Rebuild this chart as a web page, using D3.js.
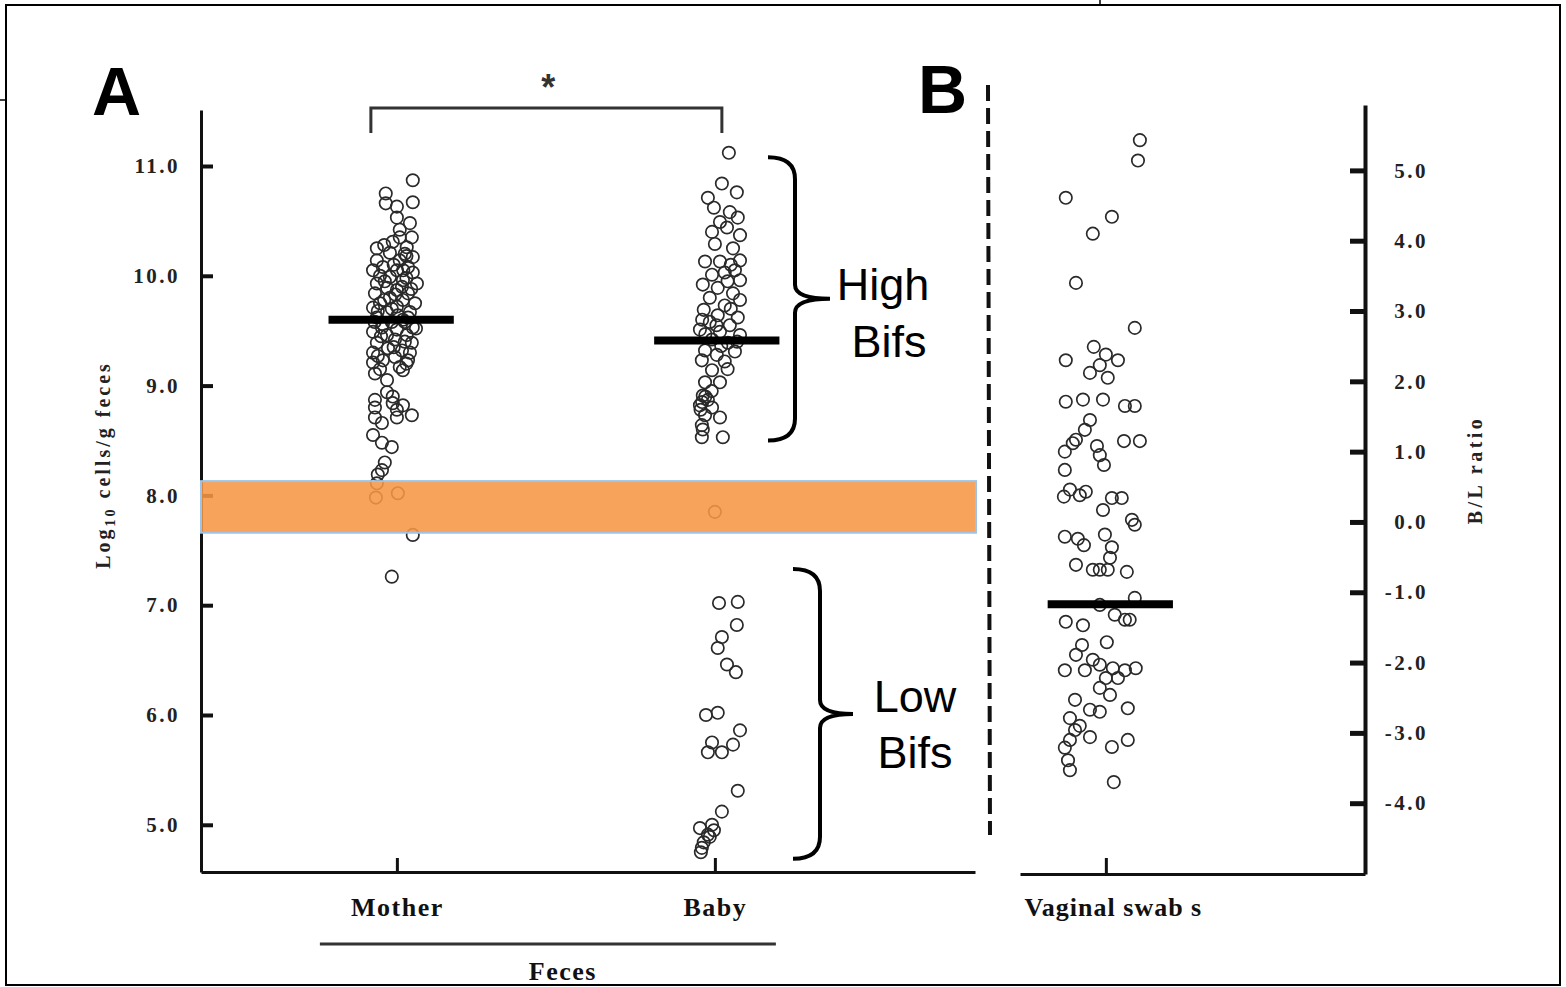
<!DOCTYPE html>
<html>
<head>
<meta charset="utf-8">
<script src="https://cdn.jsdelivr.net/npm/d3@7"></script>
<style>
  html, body { margin: 0; padding: 0; background: #fff; }
  svg { display: block; }
</style>
</head>
<body>
<svg id="chart" width="1566" height="987"></svg>
<script>
// ---------------- DATA ----------------
const categoriesA = ["Mother", "Baby"];
const categoriesB = ["Vaginal swab s"];
const groupLabel = "Feces";
const yTicksA = [5, 6, 7, 8, 9, 10, 11];
const yTicksB = [-4, -3, -2, -1, 0, 1, 2, 3, 4, 5];

// Mother feces, log10 cells/g
const motherValues = [10.87,10.75,10.67,10.66,10.63,10.53,10.48,10.42,10.35,10.31,10.25,10.26,10.21,10.17,10.14,10.14,10.08,10.08,10.05,10.03,10.05,9.99,9.96,9.93,9.93,9.89,9.87,9.84,9.84,9.80,9.78,9.75,9.75,9.72,9.71,9.67,9.67,9.64,9.62,9.58,9.58,9.53,9.53,9.51,9.49,9.46,9.46,9.42,9.39,9.39,9.34,9.32,9.30,9.26,9.23,9.23,9.21,9.17,9.11,9.14,9.05,8.94,8.90,8.87,8.84,8.80,8.82,8.78,8.73,8.71,8.71,8.66,8.55,8.48,8.44,8.30,8.23,8.19,8.11,7.98,8.02,7.64,7.26,9.95,9.60,9.70,10.00,10.20,9.90,9.56,9.30,9.15,10.35,
  9.45,9.62,9.78,9.98,10.10,9.35,9.52,9.68,9.88,10.28,9.40,9.27,9.83,10.05,9.58,9.20,10.18];
// jitter, in category units (offset from the category position)
const motherJitter = [0.050,-0.035,0.050,-0.035,0.000,0.000,0.041,0.009,0.047,-0.013,-0.063,0.031,-0.022,0.050,0.009,-0.063,-0.044,0.035,0.000,0.050,-0.075,-0.022,0.019,-0.063,0.063,-0.031,0.000,-0.069,0.035,-0.022,0.019,-0.053,0.057,0.000,-0.075,-0.031,0.041,0.003,-0.063,-0.016,0.025,-0.047,0.050,0.000,-0.075,-0.031,0.031,-0.006,-0.063,0.047,-0.028,0.016,-0.075,-0.006,-0.044,0.035,-0.075,0.009,-0.069,0.019,-0.031,-0.031,-0.013,-0.069,-0.013,-0.069,0.019,0.000,0.047,0.000,-0.069,-0.047,-0.075,-0.047,-0.016,-0.038,-0.047,-0.060,-0.063,-0.066,0.003,0.050,-0.016,-0.038,0.019,-0.016,-0.053,0.025,0.016,-0.044,0.041,-0.053,0.009,
  -0.050,0.035,-0.040,0.030,-0.010,-0.010,0.060,-0.060,0.045,-0.040,0.025,-0.060,-0.005,0.020,-0.070,0.030,0.030];

// Baby feces, log10 cells/g
const babyValues = [11.12,10.84,10.76,10.71,10.62,10.58,10.49,10.53,10.40,10.37,10.44,10.29,10.25,10.14,10.13,10.13,10.05,10.01,10.03,9.96,9.92,9.89,9.84,9.80,9.78,9.73,9.69,9.64,9.62,9.55,9.58,9.51,9.49,9.46,9.42,9.39,9.32,9.31,9.28,9.23,9.22,9.14,9.03,9.03,8.91,8.87,8.82,8.80,8.73,8.71,8.64,8.60,8.53,8.53,7.85,7.02,7.03,6.82,6.71,6.61,6.46,6.39,6.00,6.02,5.86,5.75,5.73,5.66,5.66,5.31,5.12,5.00,4.97,4.91,4.84,4.79,4.89,4.75,4.95,
  9.47,9.55,9.36,8.85,8.90,8.78,9.60,9.70,9.40,9.95,10.10,8.95,9.15];
const babyJitter = [0.044,0.022,0.069,-0.022,-0.003,0.047,0.016,0.072,-0.009,0.079,0.038,0.000,0.057,0.079,-0.031,0.016,0.063,-0.009,0.031,0.079,-0.038,0.009,0.057,-0.016,0.079,0.031,-0.035,0.009,0.072,0.047,-0.016,-0.047,0.016,0.079,-0.009,0.041,-0.031,0.063,0.006,-0.041,0.031,-0.009,-0.031,0.016,-0.038,-0.022,-0.047,-0.009,-0.031,0.016,-0.041,-0.038,-0.041,0.025,0.000,0.013,0.072,0.069,0.022,0.009,0.038,0.066,-0.028,0.009,0.079,-0.009,0.057,0.022,-0.022,0.072,0.022,-0.009,-0.047,-0.022,-0.035,-0.041,-0.016,-0.044,-0.003,
  -0.030,0.005,0.020,-0.040,-0.030,-0.045,-0.040,0.050,0.070,0.040,0.050,-0.010,0.040];

// Vaginal swabs, B/L ratio
const vaginalValues = [5.43,5.14,4.61,4.34,4.10,3.40,2.76,2.30,2.49,2.38,2.30,2.23,2.12,2.05,1.71,1.74,1.74,1.65,1.65,1.45,1.17,1.12,1.31,1.08,1.15,1.15,1.00,0.95,0.81,0.74,0.46,0.38,0.43,0.36,0.34,0.34,0.03,-0.04,0.17,-0.21,-0.24,-0.33,-0.18,-0.36,-0.51,-0.61,-0.68,-0.68,-0.68,-0.71,-1.18,-1.08,-1.42,-1.47,-1.32,-1.39,-1.39,-1.75,-1.71,-1.89,-1.96,-2.03,-2.11,-2.11,-2.08,-2.11,-2.08,-2.22,-2.22,-2.36,-2.46,-2.53,-2.65,-2.67,-2.70,-2.79,-2.90,-2.96,-3.10,-3.20,-3.10,-3.06,-3.21,-3.39,-3.53,-3.70];
const vaginalJitter = [0.107,0.101,-0.126,0.019,-0.041,-0.094,0.091,-0.126,-0.038,0.000,0.038,-0.019,-0.050,0.006,-0.126,-0.072,-0.009,0.060,0.091,-0.050,-0.094,-0.104,-0.066,-0.028,0.057,0.107,-0.129,-0.019,-0.006,-0.129,-0.113,-0.082,-0.063,-0.132,0.019,0.050,0.082,0.091,-0.009,-0.129,-0.088,-0.069,-0.003,0.019,0.013,-0.094,-0.041,-0.019,0.006,0.066,-0.019,0.091,-0.126,-0.072,0.028,0.060,0.075,-0.075,0.003,-0.094,-0.041,-0.019,-0.129,-0.066,0.022,0.060,0.094,0.000,0.038,-0.019,0.013,-0.097,0.069,-0.050,-0.019,-0.113,-0.082,-0.097,-0.113,0.019,0.069,-0.050,-0.129,-0.119,-0.113,0.025];

// Group means (horizontal bars)
const meanValues = [9.60, 9.41, -1.17];
const meanOffsets = [-0.018, 0.006, 0.014];
// highlighted band (log10 cells/g)
const bandRange = [7.66, 8.13];
// brace groups
const braceLabels = [["High", "Bifs"], ["Low", "Bifs"]];
const braceRanges = [[8.50, 11.08], [4.69, 7.33]];

// ---------------- CHART ----------------
const svg = d3.select("#chart");
const serif = '"Liberation Serif", "Times New Roman", serif';
const sans = '"Liberation Sans", Arial, sans-serif';
const fmt = d => d.toFixed(1);

// frame
svg.append("rect").attr("x", 6).attr("y", 5).attr("width", 1554).attr("height", 980)
  .attr("fill", "none").attr("stroke", "#000").attr("stroke-width", 2);
svg.append("line").attr("x1", 0).attr("x2", 6).attr("y1", 100).attr("y2", 100).attr("stroke", "#000").attr("stroke-width", 1.5);
svg.append("line").attr("x1", 1100).attr("x2", 1100).attr("y1", 0).attr("y2", 5).attr("stroke", "#000").attr("stroke-width", 1.5);

// scales
const yA = d3.scaleLinear().domain([4.57, 11.51]).range([872, 110]);
const xA = d3.scaleLinear().domain([0.384, 2.818]).range([201, 975]);
const yB = d3.scaleLinear().domain([-5.007, 5.93]).range([874, 105]);
const xB = d3.scaleLinear().domain([0.730, 1.815]).range([1020, 1365]);

function styleAxis(g, w) {
  g.select(".domain").attr("stroke", "#111").attr("stroke-width", w);
  g.selectAll(".tick line").attr("stroke", "#111").attr("stroke-width", 4);
}

// ---- Panel A axes ----
const gYA = svg.append("g").attr("transform", `translate(${xA.range()[0]},0)`)
  .call(d3.axisLeft(yA).tickValues(yTicksA).tickFormat(fmt)
    .tickSizeInner(-12).tickSizeOuter(0).tickPadding(21));
styleAxis(gYA, 3);
gYA.selectAll(".tick text").attr("font-family", serif).attr("font-weight", "bold")
  .attr("font-size", 21).attr("letter-spacing", 2.5).attr("fill", "#222");

const gXA = svg.append("g").attr("transform", `translate(0,${yA.range()[0]})`)
  .call(d3.axisBottom(xA).tickValues([1, 2]).tickFormat(d => categoriesA[d - 1])
    .tickSizeInner(-14).tickSizeOuter(0).tickPadding(26));
styleAxis(gXA, 3);
gXA.selectAll(".tick line").attr("stroke-width", 3);
gXA.selectAll(".tick text").attr("font-family", serif).attr("font-weight", "bold")
  .attr("font-size", 26).attr("letter-spacing", 1.5).attr("fill", "#111");

// Feces group line and label
svg.append("line").attr("x1", xA(1) - 77).attr("x2", xA(2) + 61).attr("y1", 944).attr("y2", 944)
  .attr("stroke", "#333").attr("stroke-width", 3);
svg.append("text").attr("x", (xA(1) + xA(2)) / 2 + 7).attr("y", 980).attr("text-anchor", "middle")
  .attr("font-family", serif).attr("font-weight", "bold").attr("font-size", 26).attr("letter-spacing", 1.5)
  .attr("fill", "#111").text(groupLabel);

// y title A
const tA = svg.append("text").attr("transform", `translate(110,465) rotate(-90)`)
  .attr("text-anchor", "middle").attr("font-family", serif).attr("font-weight", "bold")
  .attr("font-size", 20).attr("letter-spacing", 3).attr("fill", "#222");
tA.append("tspan").text("Log");
tA.append("tspan").attr("font-size", 14).attr("dy", 5).text("10");
tA.append("tspan").attr("dy", -5).text(" cells/g feces");

// ---- Panel B axes ----
const gYB = svg.append("g").attr("transform", `translate(${xB.range()[1]},0)`)
  .call(d3.axisRight(yB).tickValues(yTicksB).tickFormat(fmt)
    .tickSizeInner(-15).tickSizeOuter(0).tickPadding(63));
styleAxis(gYB, 4);
gYB.selectAll(".tick line").attr("stroke-width", 5);
gYB.selectAll(".tick text").attr("text-anchor", "end").attr("font-family", serif).attr("font-weight", "bold")
  .attr("font-size", 21).attr("letter-spacing", 2.5).attr("fill", "#222");

const gXB = svg.append("g").attr("transform", `translate(0,${yB.range()[0]})`)
  .call(d3.axisBottom(xB).tickValues([1]).tickFormat(d => categoriesB[d - 1])
    .tickSizeInner(-16).tickSizeOuter(0).tickPadding(24));
styleAxis(gXB, 3);
gXB.selectAll(".tick line").attr("stroke-width", 3);
gXB.selectAll(".tick text").attr("font-family", serif).attr("font-weight", "bold")
  .attr("font-size", 26).attr("letter-spacing", 1).attr("dx", 7).attr("fill", "#111");

svg.append("text").attr("transform", `translate(1482,470) rotate(-90)`)
  .attr("text-anchor", "middle").attr("font-family", serif).attr("font-weight", "bold")
  .attr("font-size", 20).attr("letter-spacing", 3.5).attr("fill", "#222").text("B/L ratio");

// ---- Points ----
function drawPoints(values, jitter, cat, xs, ys) {
  svg.append("g").selectAll("circle")
    .data(values.map((v, i) => ({ v, j: jitter[i] })))
    .join("circle")
    .attr("cx", d => xs(cat + d.j))
    .attr("cy", d => ys(d.v))
    .attr("r", 6.2)
    .attr("fill", "none")
    .attr("stroke", "#2a2a2a")
    .attr("stroke-width", 1.7);
}
drawPoints(motherValues, motherJitter, 1, xA, yA);
drawPoints(babyValues, babyJitter, 2, xA, yA);
drawPoints(vaginalValues, vaginalJitter, 1, xB, yB);

// ---- Means ----
const meanHalf = 0.197;
[[1, xA, yA], [2, xA, yA], [1, xB, yB]].forEach(([c, xs, ys], i) => {
  svg.append("line")
    .attr("x1", xs(c + meanOffsets[i] - meanHalf)).attr("x2", xs(c + meanOffsets[i] + meanHalf))
    .attr("y1", ys(meanValues[i])).attr("y2", ys(meanValues[i]))
    .attr("stroke", "#000").attr("stroke-width", 8);
});

// ---- Orange band ----
svg.append("rect")
  .attr("x", xA.range()[0]).attr("width", xA.range()[1] - xA.range()[0] + 1)
  .attr("y", yA(bandRange[1])).attr("height", yA(bandRange[0]) - yA(bandRange[1]))
  .attr("fill", "#F79646").attr("fill-opacity", 0.88)
  .attr("stroke", "#9DC3E6").attr("stroke-width", 2);

// ---- Significance bracket ----
const bx1 = xA(1) - 26, bx2 = xA(2) + 7;
svg.append("path")
  .attr("d", `M${bx1},133 L${bx1},108 L${bx2},108 L${bx2},133`)
  .attr("fill", "none").attr("stroke", "#333").attr("stroke-width", 3);
svg.append("text").attr("x", (bx1 + bx2) / 2 + 2).attr("y", 100).attr("text-anchor", "middle")
  .attr("font-family", sans).attr("font-weight", "bold").attr("font-size", 36).attr("fill", "#333").text("*");

// ---- Curly braces ----
function brace(x0, w, tipX, yTop, yBot) {
  const ym = (yTop + yBot) / 2;
  const xe = x0 + w;
  return `M${x0},${yTop} Q${xe},${yTop} ${xe},${yTop + 22} L${xe},${ym - 14} Q${xe},${ym} ${tipX},${ym}` +
    ` Q${xe},${ym} ${xe},${ym + 14} L${xe},${yBot - 22} Q${xe},${yBot} ${x0},${yBot}`;
}
const braceX = [[768, 27, 830], [793, 27, 853]];
braceRanges.forEach((r, i) => {
  const yTop = yA(r[1]), yBot = yA(r[0]);
  svg.append("path").attr("d", brace(braceX[i][0], braceX[i][1], braceX[i][2], yTop, yBot))
    .attr("fill", "none").attr("stroke", "#000").attr("stroke-width", 4);
});
const braceTextPos = [[883, 300, 889, 357], [915, 712, 915, 768]];
braceLabels.forEach((lbl, i) => {
  const p = braceTextPos[i];
  svg.append("text").attr("x", p[0]).attr("y", p[1]).attr("text-anchor", "middle")
    .attr("font-family", sans).attr("font-size", 45).attr("fill", "#000").text(lbl[0]);
  svg.append("text").attr("x", p[2]).attr("y", p[3]).attr("text-anchor", "middle")
    .attr("font-family", sans).attr("font-size", 45).attr("fill", "#000").text(lbl[1]);
});

// ---- Panel letters ----
svg.append("text").attr("x", 92).attr("y", 115).attr("font-family", sans).attr("font-weight", "bold")
  .attr("font-size", 68).attr("fill", "#000").text("A");
svg.append("text").attr("x", 918).attr("y", 113).attr("font-family", sans).attr("font-weight", "bold")
  .attr("font-size", 68).attr("fill", "#000").text("B");

// ---- Dashed separator ----
svg.append("line").attr("x1", 988).attr("x2", 990).attr("y1", 85).attr("y2", 835)
  .attr("stroke", "#111").attr("stroke-width", 4).attr("stroke-dasharray", "16,7");
</script>
</body>
</html>
